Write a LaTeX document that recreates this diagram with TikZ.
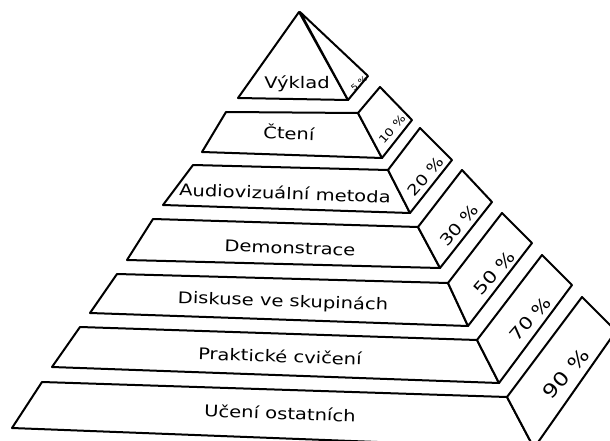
\documentclass[tikz,border=0pt]{standalone}
\usepackage{fontspec}
\setmainfont[FakeStretch=1.22]{DejaVu Sans}
\begin{document}
\begin{tikzpicture}[x=1pt,y=-1pt,
  face/.style={draw=black,line width=2pt,line join=round,fill=white},
  lbl/.style={font=\fontsize{16}{18}\selectfont,inner sep=0pt,rotate=-2},
  pct/.style={inner sep=0pt,rotate=49}]
\useasboundingbox (0,0) rectangle (610,441);
\fill[white] (0,0) rectangle (610,441);
\begin{scope}
\clip (0,0) rectangle (610,441);
% layer 1: top
\draw[face] (299,12) -- (238,98) -- (348,100) -- cycle;
\draw[face] (300,12) -- (368,76) -- (348,100) -- cycle;
% layer 2
\draw[face] (226,112) -- (358,113) -- (382,158) -- (202,152) -- cycle;
\draw[face] (358,113) -- (380,87) -- (412,120) -- (382,158) -- cycle;
% layer 3
\draw[face] (193,165) -- (388,170) -- (410,213) -- (163,205) -- cycle;
\draw[face] (388,170) -- (420,128) -- (452,160) -- (410,213) -- cycle;
% layer 4
\draw[face] (153,219) -- (418,227) -- (440,268) -- (127,260) -- cycle;
\draw[face] (418,227) -- (462,170) -- (492,202) -- (440,268) -- cycle;
% layer 5
\draw[face] (117,274) -- (448,283) -- (468,326) -- (90,313) -- cycle;
\draw[face] (448,283) -- (502,213) -- (532,243) -- (468,326) -- cycle;
% layer 6
\draw[face] (80,327) -- (477,340) -- (499,383) -- (52,367) -- cycle;
\draw[face] (477,340) -- (542,255) -- (572,285) -- (499,383) -- cycle;
% layer 7
\draw[face] (42,382) -- (507,397) -- (534,448) -- (12,428) -- cycle;
\draw[face] (507,397) -- (582,297) -- (616,331) -- (534,448) -- cycle;
\end{scope}
% labels
\node[lbl,rotate=2] (t1) at (297,84) {Výklad};
\node[lbl] (t2) at (289,132) {Čtení};
\node[lbl] (t3) at (285,193) {Audiovizuální metoda};
\node[lbl] (t4) at (290,248) {Demonstrace};
\node[lbl] (t5) at (283,302) {Diskuse ve skupinách};
\node[lbl] (t6) at (280,356) {Praktické cvičení};
\node[lbl] (t7) at (280,413) {Učení ostatních};
% percentages
\node[pct,font=\fontsize{8}{9}\selectfont,rotate=-9] (p1) at (359,83) {5 \%};
\node[pct,font=\fontsize{11}{12}\selectfont] (p2) at (392,129) {10 \%};
\node[pct,font=\fontsize{15}{17}\selectfont] (p3) at (426,176) {20 \%};
\node[pct,font=\fontsize{16}{18}\selectfont] (p4) at (459,225) {30 \%};
\node[pct,font=\fontsize{17}{19}\selectfont] (p5) at (494,273) {50 \%};
\node[pct,font=\fontsize{17}{19}\selectfont] (p6) at (530,319) {70 \%};
\node[pct,font=\fontsize{19}{21}\selectfont] (p7) at (566,374) {90 \%};
\end{tikzpicture}
\end{document}
